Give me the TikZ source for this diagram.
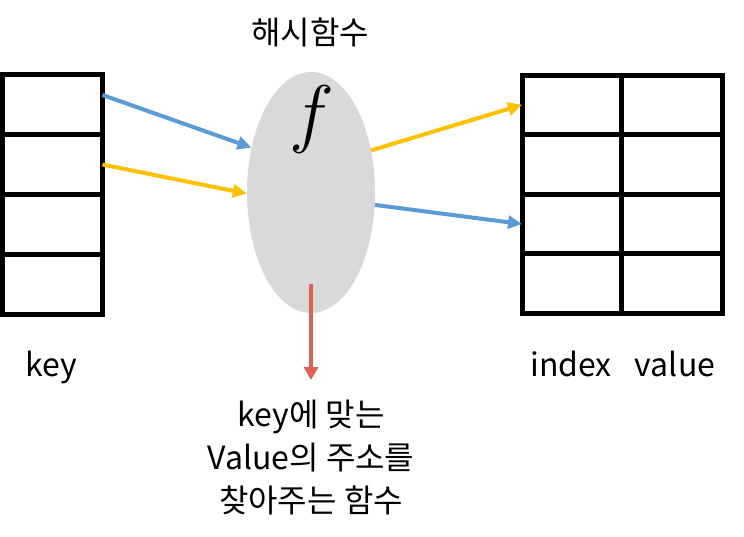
\RequirePackage{fix-cm}
\documentclass[tikz,border=0pt]{standalone}
\usepackage{fontspec}
\setmainfont{Noto Sans CJK KR}
\usetikzlibrary{positioning,shapes.geometric,arrows.meta}
\definecolor{keyblue}{HTML}{5B9BD5}
\definecolor{keyyellow}{HTML}{FFC000}
\definecolor{outred}{HTML}{E06055}
\definecolor{hashgray}{HTML}{D9D9D9}
\tikzset{
  cell/.style={draw, line width=5pt, inner sep=0pt, outer sep=0pt,
    minimum width=100pt, minimum height=60pt},
  link/.style={line width=4pt, -{Triangle[length=14pt,width=13pt]}},
  txt/.style={font=\fontsize{32}{43}\selectfont},
}

\begin{document}
\begin{tikzpicture}[x=1pt, y=-1pt]
  \useasboundingbox (0,0) rectangle (744,536);

  % key column
  \node [cell] (k1) at (52.5,104.5) {};
  \node [cell, below=0pt of k1] (k2) {};
  \node [cell, below=0pt of k2] (k3) {};
  \node [cell, below=0pt of k3] (k4) {};

  % index / value table
  \node [cell, minimum width=99pt, minimum height=59.6pt] (i1) at (571.5,104.8) {};
  \node [cell, minimum width=99pt, minimum height=59.6pt, below=0pt of i1] (i2) {};
  \node [cell, minimum width=99pt, minimum height=59.6pt, below=0pt of i2] (i3) {};
  \node [cell, minimum width=99pt, minimum height=59.6pt, below=0pt of i3] (i4) {};
  \node [cell, minimum width=101pt, minimum height=59.6pt, right=0pt of i1] (v1) {};
  \node [cell, minimum width=101pt, minimum height=59.6pt, below=0pt of v1] (v2) {};
  \node [cell, minimum width=101pt, minimum height=59.6pt, below=0pt of v2] (v3) {};
  \node [cell, minimum width=101pt, minimum height=59.6pt, below=0pt of v3] (v4) {};

  % hash function
  \node [ellipse, fill=hashgray, inner sep=0pt, minimum width=128pt,
    minimum height=241pt] (hash) at (311,192.5) {};
  \node [font=\fontsize{76}{76}\selectfont] (fn) at (312,119) {$f$};
  \node [txt, anchor=base] (title) at (310,44) {해시함수};

  % labels
  \node [txt, anchor=base] (keylbl) at (51,376) {key};
  \node [txt, anchor=base] (idxlbl) at (571,376) {index};
  \node [txt, anchor=base] (vallbl) at (675,376) {value};

  \coordinate (tip) at (311,380);
  \node [txt, align=center, inner sep=0pt, below=20pt of tip] (res)
    {key에 맞는\\Value의 주소를\\찾아주는 함수};

  % arrows
  \draw [link, keyblue] ([yshift=9.5pt]k1.east) -- (hash.143);
  \draw [link, keyyellow] (k2.east) -- (hash.181);
  \draw [link, keyyellow] (hash.35) -- (i1.west);
  \draw [link, keyblue] (hash.-11) -- (i3.west);
  \draw [line width=3.3pt, outred, -{Triangle[length=13pt,width=14pt]}]
    ([yshift=29pt]hash.south) -- (tip);
\end{tikzpicture}
\end{document}
